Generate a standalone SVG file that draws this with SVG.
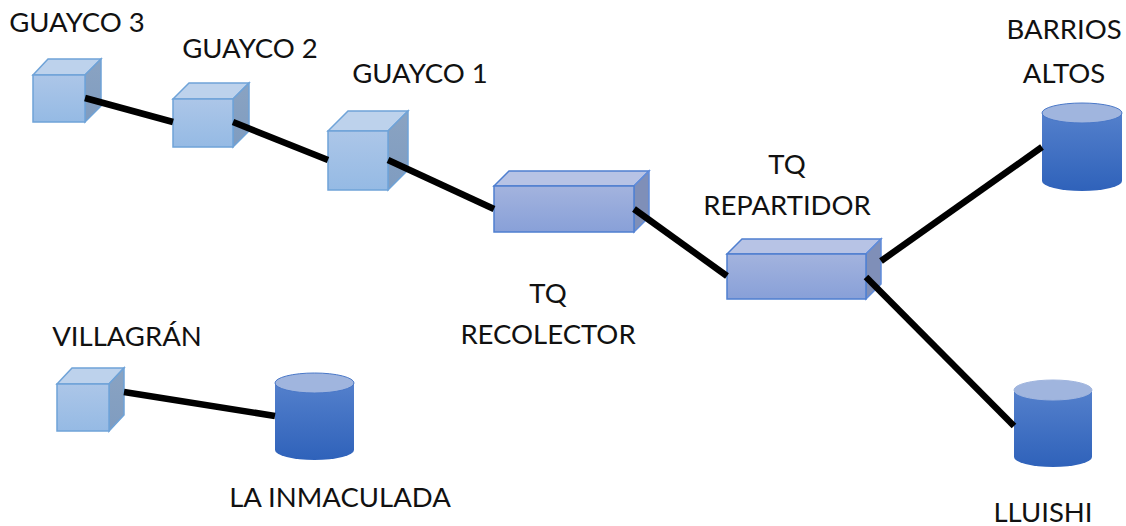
<svg xmlns="http://www.w3.org/2000/svg" width="1126" height="526" viewBox="0 0 1126 526">
<style>
text{font-family:"Lato","Carlito","Open Sans",sans-serif;font-size:27.500px;fill:#111;text-anchor:middle}
.fc{fill:url(#cf);stroke:#6fa3d8;stroke-width:1.5}
.tc{fill:#bdd2ec;stroke:#6fa3d8;stroke-width:1.5}
.sc{fill:url(#cs);stroke:#6fa3d8;stroke-width:1.5}
.fb{fill:url(#bf);stroke:#4f7fd0;stroke-width:1.5}
.tb{fill:#b7c3e5;stroke:#4f7fd0;stroke-width:1.5}
.sb{fill:#7f8fb8;stroke:#5f8cdc;stroke-width:1.5}
.cy{fill:url(#cyl)}
.ct{fill:#a0b5de;stroke:#4a78c8;stroke-width:1}
.ln{stroke:#000;stroke-width:6.500;fill:none}
</style>
<defs>
<linearGradient id="cf" x1="0" y1="0" x2="0" y2="1"><stop offset="0" stop-color="#acc6e8"/><stop offset="1" stop-color="#95bae4"/></linearGradient>
<linearGradient id="cs" x1="0" y1="0" x2="0" y2="1"><stop offset="0" stop-color="#8aa3c2"/><stop offset="1" stop-color="#7f9cc0"/></linearGradient>
<linearGradient id="bf" x1="0" y1="0" x2="0" y2="1"><stop offset="0" stop-color="#a3b3de"/><stop offset="1" stop-color="#88a0d8"/></linearGradient>
<linearGradient id="cyl" x1="0" y1="0" x2="0" y2="1"><stop offset="0" stop-color="#5480cc"/><stop offset="1" stop-color="#2f62ba"/></linearGradient>
</defs>
<g id="guayco3"><path class="tc" d="M33 75L48 59H101L85 75Z"/><path class="sc" d="M85 75L101 59V106L85 122Z"/><rect class="fc" x="33" y="75" width="52" height="47"/><text x="77" y="32">GUAYCO 3</text></g>
<g id="guayco2"><path class="tc" d="M173 99L189 83H249L233 99Z"/><path class="sc" d="M233 99L249 83V131L233 147Z"/><rect class="fc" x="173" y="99" width="60" height="48"/><text x="250" y="58">GUAYCO 2</text></g>
<g id="guayco1"><path class="tc" d="M328 131L348 111H408L388 131Z"/><path class="sc" d="M388 131L408 111V170L388 190Z"/><rect class="fc" x="328" y="131" width="60" height="59"/><text x="420" y="83">GUAYCO 1</text></g>
<g id="tq-recolector"><path class="tb" d="M494 186L509 171H649L634 186Z"/><path class="sb" d="M634 186L649 171V217L634 232Z"/><rect class="fb" x="494" y="186" width="140" height="46"/><text x="548" y="303">TQ</text><text x="548" y="344">RECOLECTOR</text></g>
<g id="tq-repartidor"><path class="tb" d="M727 254L742 239H881L866 254Z"/><path class="sb" d="M866 254L881 239V284L866 299Z"/><rect class="fb" x="727" y="254" width="139" height="45"/><text x="787" y="174">TQ</text><text x="787" y="215">REPARTIDOR</text></g>
<g id="barrios-altos"><path class="cy" d="M1042 113V181A40 10 0 0 0 1122 181V113Z"/><ellipse class="ct" cx="1082" cy="113" rx="40" ry="10"/><text x="1064" y="39">BARRIOS</text><text x="1064" y="83">ALTOS</text></g>
<g id="lluishi"><path class="cy" d="M1014 390V457A39 10 0 0 0 1092 457V390Z"/><ellipse cx="1053" cy="390" rx="39" ry="10" fill="#a0b5de" stroke="#a0b5de"/><text x="1043" y="522">LLUISHI</text></g>
<g id="villagran"><path class="tc" d="M57 384L72 368H124L109 384Z"/><path class="sc" d="M109 384L124 368V415L109 431Z"/><rect class="fc" x="57" y="384" width="52" height="47"/><text x="127" y="346">VILLAGRÁN</text></g>
<g id="la-inmaculada"><path class="cy" d="M275 383V450A39.500 10 0 0 0 354 450V383Z"/><ellipse class="ct" cx="314.500" cy="383" rx="39.500" ry="10"/><text x="340" y="507">LA INMACULADA</text></g>
<g id="connectors">
<line class="ln" x1="85" y1="98" x2="173" y2="122"/>
<line class="ln" x1="233" y1="122" x2="328" y2="160"/>
<line class="ln" x1="388" y1="160" x2="494" y2="209"/>
<line class="ln" x1="634" y1="209" x2="727" y2="276"/>
<line class="ln" x1="881" y1="261" x2="1042" y2="147"/>
<line class="ln" x1="866" y1="277" x2="1014" y2="426"/>
<line class="ln" x1="124" y1="392" x2="275" y2="416"/>
</g>
</svg>
